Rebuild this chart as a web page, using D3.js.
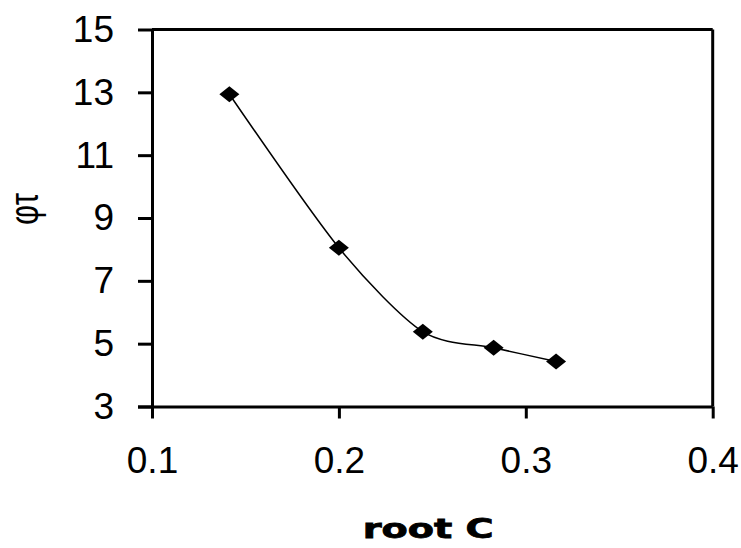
<!DOCTYPE html>
<html>
<head>
<meta charset="utf-8">
<script src="https://cdn.jsdelivr.net/npm/d3@7"></script>
<style>
  html, body { margin: 0; padding: 0; background: #fff; }
  svg { display: block; }
</style>
</head>
<body>
<svg id="chart" width="741" height="548"></svg>
<script>
// Data
const rootC = [0.1414, 0.2, 0.2449, 0.2828, 0.3162];
const phiValues = [12.94, 8.05, 5.38, 4.87, 4.43];
const xTicks = [0.1, 0.2, 0.3, 0.4];
const yTicks = [3, 5, 7, 9, 11, 13, 15];
const xTitle = "root C";
const yTitle = "φτ";

const svg = d3.select("#chart");
const plotLeft = 152, plotRight = 712.7, plotTop = 29.5, plotBottom = 406.5;

const x = d3.scaleLinear().domain([0.1, 0.4]).range([plotLeft, plotRight]);
const y = d3.scaleLinear().domain([3, 15]).range([plotBottom, plotTop]);

const font = "'Liberation Sans', Arial, sans-serif";

// Top and right frame lines
svg.append("line")
  .attr("x1", plotLeft).attr("x2", plotRight).attr("y1", plotTop).attr("y2", plotTop)
  .attr("stroke", "#000").attr("stroke-width", 3);
svg.append("line")
  .attr("x1", plotRight).attr("x2", plotRight).attr("y1", plotTop).attr("y2", plotBottom)
  .attr("stroke", "#000").attr("stroke-width", 3);

// Y axis
const gy = svg.append("g")
  .attr("transform", `translate(${plotLeft},0)`)
  .call(d3.axisLeft(y).tickValues(yTicks).tickFormat(d3.format("d"))
    .tickSize(14).tickSizeOuter(0).tickPadding(24));
// X axis
const gx = svg.append("g")
  .attr("transform", `translate(0,${plotBottom})`)
  .call(d3.axisBottom(x).tickValues(xTicks).tickFormat(d3.format(".1f"))
    .tickSize(12).tickSizeOuter(0).tickPadding(28));

[gx, gy].forEach(g => {
  g.select(".domain").attr("stroke", "#000").attr("stroke-width", 3);
  g.selectAll(".tick line").attr("stroke", "#000").attr("stroke-width", 3);
  g.selectAll(".tick text")
    .attr("fill", "#000")
    .style("font-family", font)
    .style("font-size", "37px");
});
// extend bottom axis line to the left tick at value 3
gx.select(".domain").attr("d", `M${plotLeft - 14},0.5H${plotRight}`);

// Series line (smoothed)
const pts = rootC.map((v, i) => [v, phiValues[i]]);
const line = d3.line()
  .x(d => x(d[0])).y(d => y(d[1]))
  .curve(d3.curveCardinal.tension(0.2));
svg.append("path")
  .datum(pts)
  .attr("d", line)
  .attr("fill", "none")
  .attr("stroke", "#000")
  .attr("stroke-width", 1.5);

// Markers (diamonds)
svg.selectAll("path.marker")
  .data(pts)
  .enter().append("path")
  .attr("class", "marker")
  .attr("transform", d => `translate(${x(d[0])},${y(d[1])})`)
  .attr("d", "M-10,0L0,-8L10,0L0,8Z")
  .attr("fill", "#000");

// X axis title
svg.append("text")
  .attr("x", 362.7).attr("y", 538)
  .attr("textLength", 131)
  .attr("lengthAdjust", "spacingAndGlyphs")
  .style("font-family", "'DejaVu Sans', sans-serif")
  .style("font-weight", "bold")
  .style("font-size", "27px")
  .attr("fill", "#000")
  .attr("stroke", "#000")
  .attr("stroke-width", 0.8)
  .text(xTitle);

// Y axis title (rotated)
svg.append("text")
  .attr("transform", "translate(38,209) rotate(-90)")
  .attr("text-anchor", "middle")
  .attr("textLength", 32)
  .attr("lengthAdjust", "spacingAndGlyphs")
  .style("font-family", font)
  .style("font-size", "40px")
  .attr("fill", "#000")
  .text(yTitle);
</script>
</body>
</html>
